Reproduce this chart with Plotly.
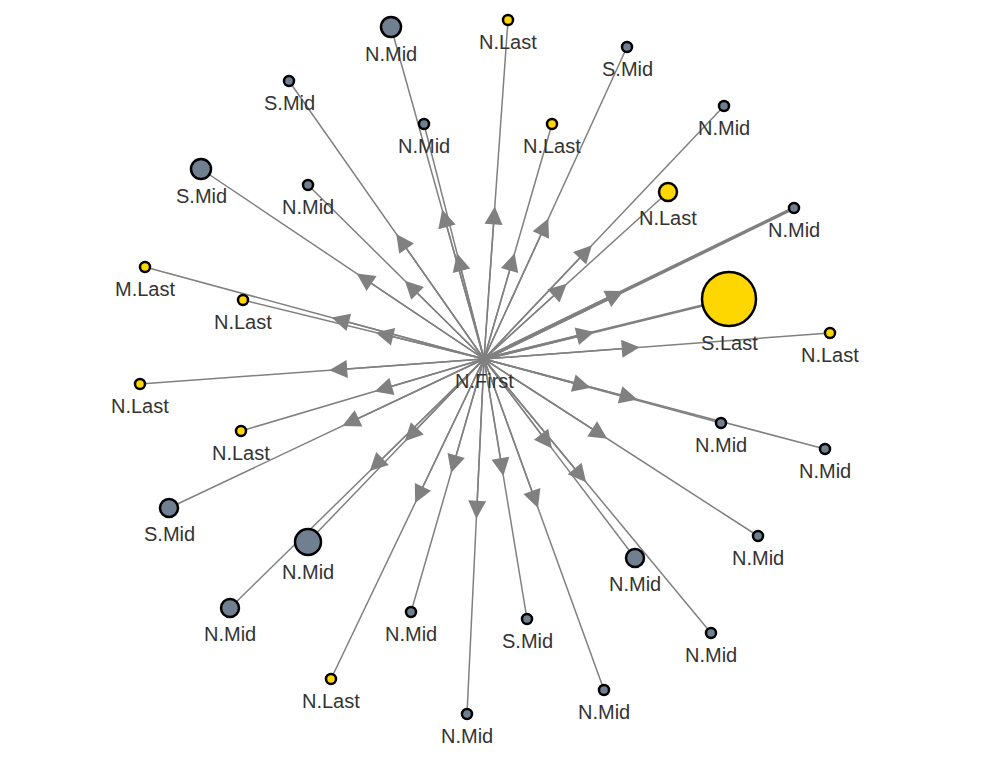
import plotly.graph_objects as go

# layout positions (pixel space, y down)
centre = (483, 358)
centre_label = "N.First"
node_x = [390, 507, 626, 288, 423, 551, 723, 200, 307, 667, 793, 144, 242, 728, 829,
          139, 240, 720, 824, 168, 307, 757, 634, 229, 410, 526, 710, 330, 603, 466]
node_y = [26, 19, 46, 80, 123, 123, 105, 168, 184, 191, 207, 266, 299, 298, 332,
          383, 430, 422, 448, 507, 541, 535, 557, 607, 611, 618, 632, 678, 689, 713]
node_size = [20, 10, 10, 10, 10, 10, 10, 20, 10, 18, 10, 10, 10, 54, 10,
             10, 10, 10, 10, 18, 26, 10, 18, 18, 10, 10, 10, 10, 10, 10]
node_kind = ["grey", "yellow", "grey", "grey", "grey", "yellow", "grey", "grey", "grey", "yellow",
             "grey", "yellow", "yellow", "yellow", "yellow", "yellow", "yellow", "grey", "grey", "grey",
             "grey", "grey", "grey", "grey", "grey", "grey", "grey", "yellow", "grey", "grey"]
node_label = ["N.Mid", "N.Last", "S.Mid", "S.Mid", "N.Mid", "N.Last", "N.Mid", "S.Mid", "N.Mid", "N.Last",
              "N.Mid", "M.Last", "N.Last", "S.Last", "N.Last", "N.Last", "N.Last", "N.Mid", "N.Mid", "S.Mid",
              "N.Mid", "N.Mid", "N.Mid", "N.Mid", "N.Mid", "S.Mid", "N.Mid", "N.Last", "N.Mid", "N.Mid"]
edge_width = [1.5] * 30
edge_width[10] = 3.5
edge_width[13] = 2.5

colours = {"grey": "#708090", "yellow": "#FFD700"}

fig = go.Figure()
cx, cy = centre
for x, y, w in zip(node_x, node_y, edge_width):
    fig.add_trace(go.Scatter(x=[cx, x], y=[cy, y], mode="lines",
                             line=dict(color="#808080", width=w), hoverinfo="skip", showlegend=False))
    t = 0.45
    fig.add_annotation(x=cx + (x - cx) * t, y=cy + (y - cy) * t, ax=cx, ay=cy,
                       xref="x", yref="y", axref="x", ayref="y", text="", showarrow=True,
                       arrowhead=2, arrowsize=2.4 * 1.5 / w, arrowwidth=w, arrowcolor="#808080")

fig.add_trace(go.Scatter(
    x=node_x, y=node_y, mode="markers",
    marker=dict(size=node_size, color=[colours[k] for k in node_kind],
                line=dict(color="black", width=2.5), opacity=1),
    showlegend=False))

for x, y, s, lab in zip(node_x, node_y, node_size, node_label):
    fig.add_annotation(x=x, y=y + s / 2 + 4, text=lab, showarrow=False, yanchor="top",
                       font=dict(size=20, color="#333333", family="Liberation Sans"))
fig.add_annotation(x=cx, y=cy + 22, text=centre_label, showarrow=False,
                   font=dict(size=20, color="#333333", family="Liberation Sans"))

fig.update_xaxes(range=[7, 989], visible=False)
fig.update_yaxes(range=[767, 7], visible=False)
fig.update_layout(width=982, height=760, margin=dict(l=0, r=0, t=0, b=0),
                  plot_bgcolor="white", paper_bgcolor="white")
fig.write_html("out.html")
